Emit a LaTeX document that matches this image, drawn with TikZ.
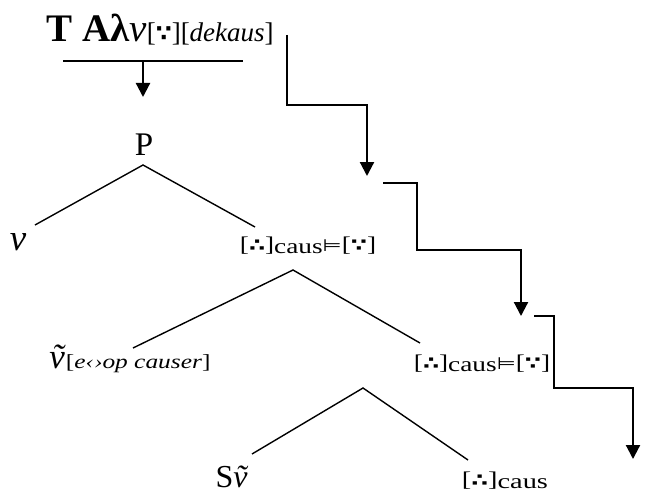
\documentclass[tikz,border=0pt]{standalone}
\usepackage{fontspec}
\usepackage{tikz}
\usetikzlibrary{arrows.meta}
\setmainfont{Liberation Serif}
\newfontfamily\symfont{DejaVu Sans}
\newcommand{\thr}{{\symfont\bfseries\scalebox{0.85}{∴}}}
\newcommand{\bec}{{\symfont\bfseries\scalebox{0.85}{∵}}}
\newcommand{\entl}{{\symfont\scalebox{0.8}{⊨}}}
\newcommand{\caus}{\raisebox{-1pt}{caus}}
\newcommand{\vt}{\textit{\~{v}}}
\newcommand{\wide}[2][1.3]{\scalebox{#1}[1]{#2}}

\begin{document}
\begin{tikzpicture}[x=0.5pt,y=-0.5pt,
  lbl/.style={inner sep=0pt,anchor=base},
  small/.style={font=\fontsize{10.5}{12}\selectfont},
  branch/.style={line width=0.7pt},
  route/.style={line width=1.1pt,-{Triangle[length=7pt,width=7pt]}}]
\useasboundingbox (0,0) rectangle (646,492);
% labels
\node[lbl] (top) at (160,42) {\fontsize{19.5}{22}\selectfont\textbf{T Aλ}\textit{v}\fontsize{13.5}{15}\selectfont[\bec][\textit{dekaus}]};
\node[lbl,font=\fontsize{16.5}{18}\selectfont] (P) at (144,155) {P};
\node[lbl,font=\fontsize{18.5}{20}\selectfont] (v) at (18,250) {\textit{v}};
\node[lbl,small] (n1) at (308,251) {\wide{[\thr]\caus\entl[\bec]}};
\node[lbl] (vt) at (130,368) {{\fontsize{17.5}{19}\selectfont\vt}{\fontsize{10}{12}\selectfont\wide[1.27]{[\textit{e‹›op causer}]}}};
\node[lbl,small] (n2) at (482,369) {\wide{[\thr]\caus\entl[\bec]}};
\node[lbl,font=\fontsize{16}{18}\selectfont] (Sv) at (232,487) {S\vt};
\node[lbl,small] (n3) at (505,486) {\wide[1.35]{[\thr]\caus}};
% tree
\coordinate (Pa) at (143,165);
\coordinate (Pl) at (35,225);
\coordinate (Pr) at (255,227);
\coordinate (n1a) at (293,270);
\coordinate (n1l) at (133,348);
\coordinate (n1r) at (420,343);
\coordinate (n2a) at (363,388);
\coordinate (n2l) at (252,454);
\coordinate (n2r) at (468,460);
\draw[branch] (Pl) -- (Pa) -- (Pr);
\draw[branch] (n1l) -- (n1a) -- (n1r);
\draw[branch] (n2l) -- (n2a) -- (n2r);
% bar under the top line
\coordinate (barl) at (63,61);
\coordinate (barr) at (243,61);
\coordinate (barm) at (143,61);
\coordinate (barend) at (143,97);
\draw[line width=0.6pt] (barl) -- (barr);
\draw[route] (barm) -- (barend);
% stepped arrows
\coordinate (s1) at (287,35);
\coordinate (e1) at (367,176);
\coordinate (s2) at (383,183);
\coordinate (k2) at (417,250);
\coordinate (e2) at (521,316);
\coordinate (s3) at (534,316);
\coordinate (k3) at (554,388);
\coordinate (e3) at (633,459);
\draw[route] (s1) |- (e1 |- 0,105) -- (e1);
\draw[route] (s2) -| (k2) -| (e2);
\draw[route] (s3) -| (k3) -| (e3);
\end{tikzpicture}
\end{document}
